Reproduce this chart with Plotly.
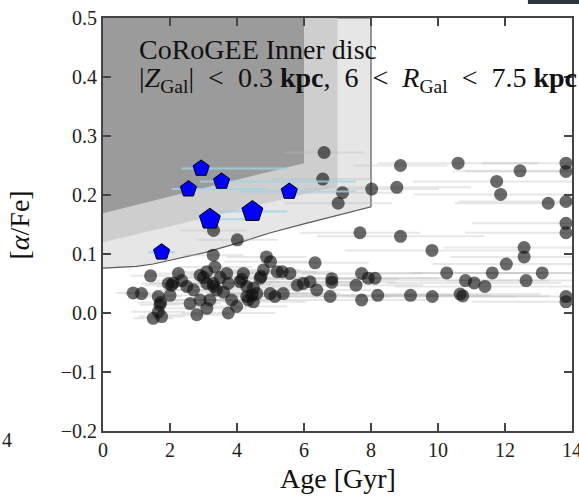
import plotly.graph_objects as go

# ---- CoRoGEE inner-disc sample: age vs [alpha/Fe] ----
star_age = [6.60, 6.56, 7.15, 7.02, 8.02, 8.88, 8.77, 10.60, 12.45, 11.75, 11.87, 13.29,
            13.82, 13.82, 13.82, 13.82, 13.82, 7.67, 8.88, 9.82, 12.57, 12.57, 3.30, 4.01,
            3.29, 4.88, 5.00, 6.33, 12.04, 1.42, 2.25, 10.26, 11.62, 13.11, 7.72, 5.58,
            5.20, 5.35, 4.79, 4.72, 0.90, 1.15, 1.65, 1.70, 1.65, 1.50, 1.75, 1.95, 2.10,
            2.00, 2.50, 2.70, 2.60, 2.80, 2.90, 3.10, 3.34, 3.29, 3.39, 3.10, 3.19, 2.90,
            3.10, 3.69, 3.74, 3.84, 3.74, 4.09, 3.99, 4.29, 4.19, 4.14, 4.29, 4.49, 4.34,
            4.49, 4.69, 4.59, 4.99, 5.13, 5.38, 5.80, 5.98, 6.18, 6.38, 6.78, 6.83, 6.83,
            7.55, 7.92, 8.12, 7.72, 8.20, 9.18, 9.83, 10.66, 10.74, 10.82, 11.08, 11.40,
            12.63, 13.82, 13.82, 2.05, 3.30, 1.72, 4.45, 3.00, 3.50, 2.35, 3.60]
star_alpha = [0.272, 0.227, 0.204, 0.186, 0.210, 0.250, 0.213, 0.254, 0.241, 0.223, 0.201, 0.186,
              0.254, 0.240, 0.189, 0.152, 0.136, 0.136, 0.130, 0.106, 0.111, 0.095, 0.140, 0.124,
              0.098, 0.095, 0.087, 0.085, 0.083, 0.063, 0.067, 0.068, 0.068, 0.068, 0.067, 0.067,
              0.070, 0.070, 0.073, 0.062, 0.034, 0.033, 0.028, 0.014, 0.002, -0.009, -0.006, 0.050, 0.051,
              0.030, 0.045, 0.039, 0.016, -0.003, 0.064, 0.070, 0.078, 0.050, 0.039, 0.050, 0.022, 0.022,
              0.008, 0.067, 0.050, 0.022, 0.000, 0.053, 0.011, 0.028, 0.067, 0.057, 0.045, 0.042, 0.022,
              0.019, 0.059, 0.033, 0.033, 0.028, 0.033, 0.047, 0.050, 0.053, 0.039, 0.028, 0.058, 0.052,
              0.047, 0.059, 0.059, 0.022, 0.030, 0.030, 0.028, 0.032, 0.029, 0.055, 0.051, 0.045,
              0.055, 0.028, 0.019, 0.047, 0.045, 0.018, 0.030, 0.060, 0.060, 0.055, 0.035]
star_age_err = [1.2, 1.5, 1.8, 1.6, 2.0, 1.4, 2.2, 2.4, 2.0, 2.5, 2.6, 2.8,
                2.5, 3.0, 3.2, 2.8, 3.0, 1.8, 2.5, 2.6, 2.4, 2.2, 1.0, 1.2,
                0.9, 1.2, 1.4, 1.6, 2.2, 0.6, 0.8, 2.5, 2.4, 2.6, 1.8, 1.3,
                1.2, 1.5, 1.1, 1.3, 0.5, 0.5, 0.7, 0.6, 0.8, 0.6, 0.7, 0.8, 0.7,
                0.9, 0.9, 1.0, 0.9, 1.0, 0.8, 1.0, 1.1, 1.0, 1.2, 0.9, 1.1, 1.0,
                1.2, 1.1, 1.3, 1.2, 1.4, 1.2, 1.5, 1.3, 1.2, 1.4, 1.3, 1.5, 1.4,
                1.6, 1.4, 1.5, 1.6, 1.5, 1.7, 1.6, 1.8, 1.7, 1.9, 1.8, 2.0, 1.9,
                2.0, 2.1, 2.2, 2.0, 2.3, 2.4, 2.5, 2.4, 2.6, 2.5, 2.6, 2.7,
                2.4, 3.0, 2.8, 0.8, 1.1, 0.7, 1.4, 0.9, 1.0, 0.9, 1.2]

# ---- highlighted stars (pentagons) ----
hl_age = [1.75, 2.55, 2.93, 3.54, 5.56, 4.46, 3.19]
hl_alpha = [0.103, 0.210, 0.245, 0.223, 0.206, 0.172, 0.159]
hl_err_plus = [0.4, 2.33, 2.60, 4.00, 2.00, 1.04, 1.10]
hl_err_minus = [0.4, 0.50, 0.58, 0.64, 1.46, 0.96, 0.29]
hl_size = [17, 17, 17, 17, 17, 22, 22]

# ---- model bands ----
band_dark_age = [0, 6]
band_dark_low = [0.169, 0.254]
band_mid_age = [0, 7]
band_mid_low = [0.120, 0.215]
band_outer_age = [0, 0.5, 1, 1.5, 2, 2.5, 3, 4, 5, 6, 7, 8]
band_outer_low = [0.076, 0.077, 0.079, 0.083, 0.089, 0.095, 0.102, 0.118, 0.136, 0.151, 0.166, 0.180]
band_top = 0.5

FONT = "Liberation Serif"

fig = go.Figure()

# outer (lightest) band with outline
ox = list(band_outer_age) + [band_outer_age[-1], band_outer_age[0]]
oy = list(band_outer_low) + [band_top, band_top]
fig.add_trace(go.Scatter(x=ox, y=oy, fill="toself", fillcolor="#e6e6e6",
                         mode="lines", line=dict(color="#5a5a5a", width=1.2),
                         hoverinfo="skip", showlegend=False))
# middle band
mx = list(band_mid_age) + [band_mid_age[-1], band_mid_age[0]]
my = list(band_mid_low) + [band_top, band_top]
fig.add_trace(go.Scatter(x=mx, y=my, fill="toself", fillcolor="#cecece",
                         mode="none", hoverinfo="skip", showlegend=False))
# dark band
dx = list(band_dark_age) + [band_dark_age[-1], band_dark_age[0]]
dy = list(band_dark_low) + [band_top, band_top]
fig.add_trace(go.Scatter(x=dx, y=dy, fill="toself", fillcolor="#9b9b9b",
                         mode="none", hoverinfo="skip", showlegend=False))

# sample stars
fig.add_trace(go.Scatter(
    x=star_age, y=star_alpha, mode="markers",
    marker=dict(size=13, color="rgba(15,15,15,0.62)", line=dict(width=0)),
    error_x=dict(type="data", array=star_age_err, color="rgba(185,185,185,0.35)",
                 thickness=2, width=0),
    showlegend=False))

# highlighted stars
fig.add_trace(go.Scatter(
    x=hl_age, y=hl_alpha, mode="markers",
    marker=dict(symbol="pentagon", size=hl_size, color="#0000ff", opacity=1,
                line=dict(color="black", width=1)),
    error_x=dict(type="data", symmetric=False, array=hl_err_plus,
                 arrayminus=hl_err_minus, color="rgba(160,210,228,0.8)",
                 thickness=2, width=0),
    showlegend=False))

axis_common = dict(showline=True, mirror="ticks", linecolor="#444444", linewidth=2,
                   ticks="inside", ticklen=8, tickwidth=1.5, tickcolor="#444444",
                   showgrid=False, zeroline=False, ticklabeloverflow="allow",
                   automargin=False,
                   tickfont=dict(family=FONT, size=20, color="#222222"))

fig.update_xaxes(range=[0, 14], tickvals=[0, 2, 4, 6, 8, 10, 12, 14], **axis_common)
fig.update_yaxes(range=[-0.2, 0.5], tickvals=[-0.2, -0.1, 0.0, 0.1, 0.2, 0.3, 0.4, 0.5],
                 tickformat=".1f", **axis_common)

SP = "&nbsp;&nbsp;"
line2 = ("|<i>Z</i><sub>Gal</sub>|" + SP + "&lt;" + SP + "0.3 <b>kpc</b>," + SP + "6" + SP + "&lt;" + SP
         + "<i>R</i><sub>Gal</sub>" + SP + "&lt;" + SP + "7.5 <b>kpc</b>")

annotations = [
    dict(text="CoRoGEE Inner disc", x=1.0, y=0.447, xref="x", yref="y",
         xanchor="left", yanchor="middle", showarrow=False,
         font=dict(family=FONT, size=28, color="#111111")),
    dict(text=line2, x=1.0, y=0.395, xref="x", yref="y",
         xanchor="left", yanchor="middle", showarrow=False,
         font=dict(family=FONT, size=28, color="#111111")),
    dict(text="Age [Gyr]", x=0.5, y=-0.115, xref="paper", yref="paper",
         xanchor="center", yanchor="middle", showarrow=False,
         font=dict(family=FONT, size=28, color="#111111")),
    dict(text="[<i>α</i>/Fe]", x=-0.177, y=0.5, xref="paper", yref="paper",
         xanchor="center", yanchor="middle", showarrow=False, textangle=-90,
         font=dict(family=FONT, size=28, color="#111111")),
    dict(text="4", x=-0.2196, y=-0.022, xref="paper", yref="paper",
         xanchor="left", yanchor="middle", showarrow=False,
         font=dict(family=FONT, size=20, color="#222222")),
]

fig.update_layout(
    width=579, height=496,
    margin=dict(l=103, r=7, t=18, b=65),
    paper_bgcolor="white", plot_bgcolor="white",
    annotations=annotations,
    shapes=[dict(type="rect", xref="paper", yref="paper",
                 x0=0.906, x1=1.02, y0=1.034, y1=1.05,
                 fillcolor="#2b3540", line=dict(width=0), layer="above")],
)

fig.write_html("out.html")
